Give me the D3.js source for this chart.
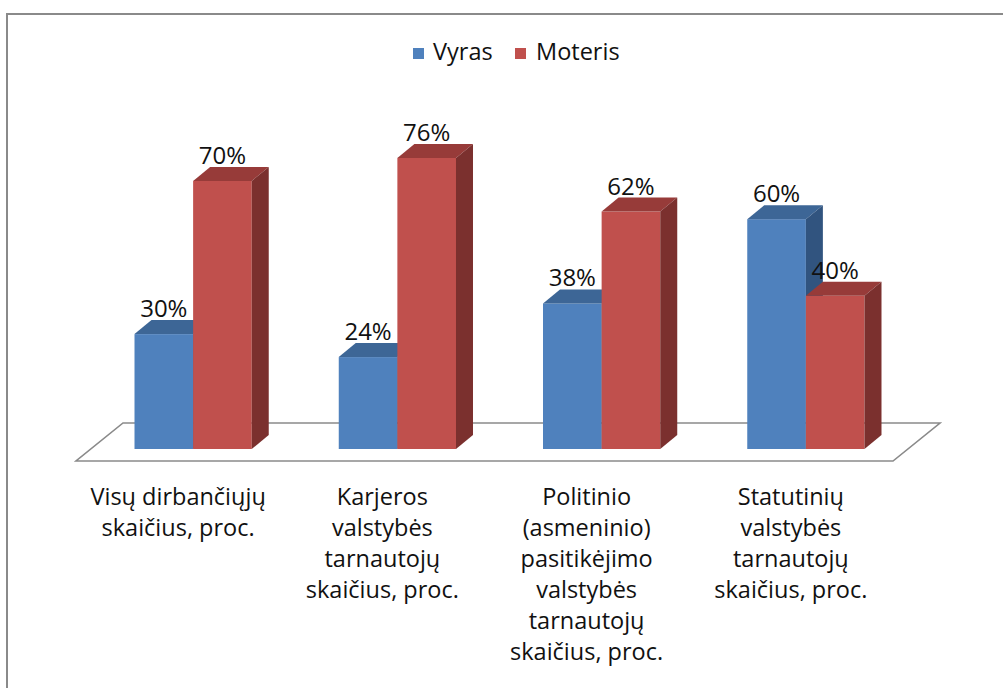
<!DOCTYPE html>
<html><head><meta charset="utf-8">
<script src="https://cdn.jsdelivr.net/npm/d3@7"></script>
<style>body{margin:0;background:#fff}svg{display:block}</style>
</head><body>
<svg id="c" width="1003" height="688"></svg>
<script>
const categories = [
  ["Visų dirbančiųjų", "skaičius, proc."],
  ["Karjeros", "valstybės", "tarnautojų", "skaičius, proc."],
  ["Politinio", "(asmeninio)", "pasitikėjimo", "valstybės", "tarnautojų", "skaičius, proc."],
  ["Statutinių", "valstybės", "tarnautojų", "skaičius, proc."]
];
const seriesNames = ["Vyras", "Moteris"];
const vyras = [30, 24, 38, 60];
const moteris = [70, 76, 62, 40];

const colors = {
  Vyras: {front: "#4F81BD", top: "#3D6696", side: "#31547F"},
  Moteris: {front: "#C0504D", top: "#973B39", side: "#7B302E"}
};
const FONT = "'Open Sans', sans-serif";

const svg = d3.select("#c");
svg.append("rect").attr("x", 7).attr("y", 14).attr("width", 1100).attr("height", 800)
  .attr("fill", "#fff").attr("stroke", "#8a8a8a").attr("stroke-width", 2);

const keys = categories.map((c, i) => i);
const floorL = 76, floorR = 893, floorY = 461, fdx = 47, fdy = -38;
const bdx = 17, bdy = -14;
const offX = 15, offY = -12;

svg.append("path")
  .attr("d", `M${floorL},${floorY}L${floorR},${floorY}L${floorR+fdx},${floorY+fdy}L${floorL+fdx},${floorY+fdy}Z`)
  .attr("fill", "#fff").attr("stroke", "#8a8a8a").attr("stroke-width", 1.6);

const x0 = d3.scaleBand().domain(keys).range([floorL + offX, floorR + offX])
  .paddingInner(0.426).paddingOuter(0.213);
const x1 = d3.scaleBand().domain(seriesNames).range([0, x0.bandwidth()]);
const y = d3.scaleLinear().domain([0, 100]).range([floorY + offY, 66]);

const data = [];
keys.forEach(i => {
  data.push({i, s: "Vyras", v: vyras[i]});
  data.push({i, s: "Moteris", v: moteris[i]});
});

const bars = svg.append("g").selectAll("g").data(data).join("g");
bars.each(function(d) {
  const g = d3.select(this);
  const xl = x0(d.i) + x1(d.s), xr = xl + x1.bandwidth();
  const yt = y(d.v), yb = y(0);
  const c = colors[d.s];
  g.append("rect").attr("x", xl).attr("y", yt).attr("width", xr - xl).attr("height", yb - yt).attr("fill", c.front);
  g.append("path").attr("d", `M${xl},${yt}L${xl+bdx},${yt+bdy}L${xr+bdx},${yt+bdy}L${xr},${yt}Z`).attr("fill", c.top);
  g.append("path").attr("d", `M${xr},${yt}L${xr+bdx},${yt+bdy}L${xr+bdx},${yb+bdy}L${xr},${yb}Z`).attr("fill", c.side);
  g.append("text").attr("x", (xl + xr) / 2).attr("y", yt + bdy - 3)
    .attr("text-anchor", "middle").attr("font-family", FONT).attr("font-size", 24)
    .attr("fill", "#111").text(d.v + "%");
});

const lab = svg.append("g").selectAll("text").data(keys).join("text")
  .attr("x", i => x0(i) + x0.bandwidth() / 2 - offX)
  .attr("y", 505).attr("text-anchor", "middle")
  .attr("font-family", FONT).attr("font-size", 23.5).attr("fill", "#111");
lab.each(function(i) {
  d3.select(this).selectAll("tspan").data(categories[i]).join("tspan")
    .attr("x", x0(i) + x0.bandwidth() / 2 - offX)
    .attr("dy", (t, k) => k === 0 ? 0 : 31).text(t => t);
});

const leg = [{s: "Vyras", x: 413, tx: 433}, {s: "Moteris", x: 515, tx: 536}];
const lg = svg.append("g").selectAll("g").data(leg).join("g");
lg.append("rect").attr("x", d => d.x).attr("y", 48).attr("width", 11).attr("height", 11)
  .attr("fill", d => colors[d.s].front);
lg.append("text").attr("x", d => d.tx).attr("y", 60).attr("font-family", FONT).attr("font-size", 23.5)
  .attr("fill", "#111").text(d => d.s);
</script>
</body></html>
